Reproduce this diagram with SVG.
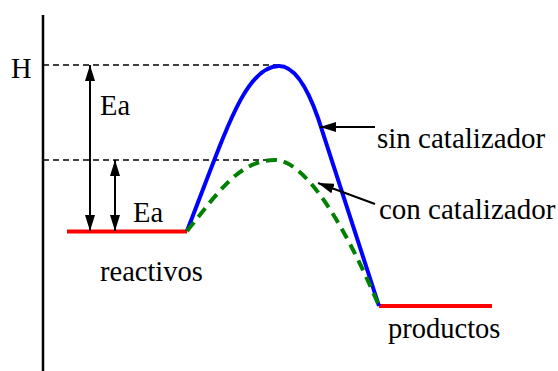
<svg xmlns="http://www.w3.org/2000/svg" width="558" height="371" viewBox="0 0 558 371">
<defs>
<marker id="ah" viewBox="0 0 16 10" refX="16" refY="5" markerWidth="16" markerHeight="10" markerUnits="userSpaceOnUse" orient="auto-start-reverse">
<path d="M0,0 L16,5 L0,10 Z" fill="#000"/>
</marker>
</defs>
<style>
.axis{stroke:#000;stroke-width:2.5;fill:none}
.guide{stroke:#000;stroke-width:1.4;stroke-dasharray:6,4;fill:none}
.arr{stroke:#000;stroke-width:2;fill:none}
.level{stroke:#ff0000;stroke-width:4;fill:none}
.blue{stroke:#0000ff;stroke-width:4;fill:none}
.green{stroke:#008000;stroke-width:4;fill:none;stroke-dasharray:11,7}
</style>
<rect width="558" height="371" fill="#fff"/>
<g font-family="'Liberation Serif', serif" font-size="28.5" fill="#000">
<g id="axis">
<line class="axis" x1="43" y1="15" x2="43" y2="371"/>
<text x="11" y="78">H</text>
</g>
<g id="guides">
<line class="guide" x1="43" y1="65" x2="283" y2="65"/>
<line class="guide" x1="43" y1="160" x2="276" y2="160"/>
</g>
<g id="reactivos">
<line class="level" x1="67" y1="231.5" x2="187" y2="231.5"/>
<text x="100" y="281">reactivos</text>
</g>
<g id="productos">
<line class="level" x1="379" y1="306" x2="492" y2="306"/>
<text x="388" y="338">productos</text>
</g>
<g id="curves">
<path class="blue" d="M187,231 C226,131 245,66 279,66 C298,66 311,98 318,118 L379,306"/>
<path class="green" d="M187,231 C220,190 240,160 275,160 C305,160 345,225 379,306"/>
</g>
<g id="connectors">
<line class="arr" x1="90" y1="65" x2="90" y2="231" marker-start="url(#ah)" marker-end="url(#ah)"/>
<line class="arr" x1="115" y1="160" x2="115" y2="231" marker-start="url(#ah)" marker-end="url(#ah)"/>
<line class="arr" x1="375" y1="127" x2="320" y2="127" marker-end="url(#ah)"/>
<line class="arr" x1="375" y1="204" x2="318" y2="183" marker-end="url(#ah)"/>
</g>
<g id="labels">
<text x="100" y="115">Ea</text>
<text x="133" y="222">Ea</text>
<text x="377" y="148" font-size="29">sin catalizador</text>
<text x="379" y="219" font-size="29">con catalizador</text>
</g>
</g>
</svg>
